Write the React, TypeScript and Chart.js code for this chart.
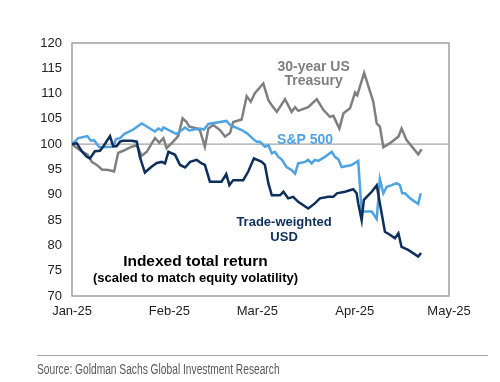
import React, { useEffect, useRef } from "react";
import { Chart, registerables } from "chart.js";

Chart.register(...registerables);

// ---- Axis ticks (x = days since 1 Jan 2025) ----
const monthTickDays = [0, 31, 59, 90, 120];
const monthTickLabels = ["Jan-25", "Feb-25", "Mar-25", "Apr-25", "May-25"];
const yMin = 70;
const yMax = 120;
const yStep = 5;
const referenceValue = 100;

// ---- 30-year US Treasury ----
const treasuryDays = [
  0, 2.5, 4.9, 6.3, 7.9, 9.5, 11.6, 13.4, 14.7, 16.3, 19.0, 20.6, 22.2, 23.8, 26.4, 27.8, 29.1, 30.1,
  32.2, 33.8, 35.2, 36.5, 37.3, 39.7, 40.7, 42.3, 43.4, 45.0, 47.1, 48.7, 50.3, 51.3, 54.0, 55.6, 56.9,
  58.2, 60.9, 62.5, 63.6, 65.2, 67.8, 69.9, 71.0, 72.0, 75.2, 77.9, 80.0, 82.1, 83.2, 85.1, 86.4, 88.5,
  90.1, 90.8, 93.0, 95.9, 97.0, 98.0, 99.1, 101.2, 103.9, 104.9, 106.5, 110.2, 111.3,
];
const treasuryValues = [
  100, 98.8, 98.0, 96.5, 95.9, 95.0, 94.9, 94.6, 98.3, 98.7, 99.5, 99.8, 97.7, 98.5, 101.2, 100.3, 101.2, 99.2,
  100.5, 101.6, 105.1, 104.4, 103.5, 103.1, 102.8, 99.5, 103.1, 103.8, 102.8, 101.5, 102.2, 104.4, 104.9, 109.5, 108.4,
  110.1, 112.0, 108.7, 107.7, 106.4, 108.9, 106.4, 107.3, 106.6, 107.3, 108.9, 106.8, 105.4, 105.6, 103.1, 106.1, 107.1,
  110.2, 109.7, 114.1, 108.4, 104.1, 103.5, 99.4, 100.2, 101.5, 103.1, 100.8, 98.0, 99.0,
];

// ---- S&P 500 ----
const spxDays = [
  0, 2.0, 4.9, 6.0, 7.0, 8.7, 13.1, 14.0, 15.3, 16.6, 19.5, 22.2, 24.3, 26.4, 27.5, 28.6, 29.1, 33.3,
  36.0, 37.3, 40.7, 42.0, 43.4, 49.2, 50.3, 54.0, 55.6, 56.7, 57.7, 58.8, 59.8, 61.4, 62.5, 63.6, 64.6,
  65.7, 66.7, 68.3, 69.9, 71.0, 72.0, 74.2, 75.2, 76.3, 77.3, 78.4, 80.5, 82.7, 83.7, 84.8, 85.8, 89.0,
  91.1, 92.2, 93.3, 95.4, 97.0, 98.0, 98.6, 99.1, 100.2, 101.8, 103.4, 104.4, 105.1, 106.0, 107.6, 110.2, 111.0,
];
const spxValues = [
  100, 101.2, 101.6, 100.7, 100.8, 99.4, 99.5, 101.0, 101.2, 102.0, 102.9, 104.1, 103.3, 102.5, 103.1, 102.7, 103.3, 102.0,
  103.3, 102.7, 103.1, 102.9, 104.0, 104.6, 103.8, 102.8, 102.2, 101.6, 101.0, 100.5, 100.5, 99.5, 99.8, 98.2, 98.5,
  97.5, 97.0, 95.5, 94.9, 94.2, 96.2, 96.5, 96.9, 96.2, 96.9, 96.7, 97.5, 98.5, 97.5, 97.0, 95.5, 95.9,
  96.7, 86.7, 86.7, 86.7, 85.2, 93.1, 91.6, 90.3, 91.6, 91.9, 92.3, 91.9, 90.3, 90.3, 89.3, 88.2, 90.3,
];

// ---- Trade-weighted USD ----
const usdDays = [
  0, 1.5, 3.1, 4.7, 5.7, 7.3, 8.9, 10.0, 12.1, 13.1, 14.2, 15.3, 16.3, 19.0, 20.6, 21.6, 23.2, 25.4,
  27.0, 28.6, 29.6, 30.7, 32.8, 34.4, 36.0, 37.6, 39.7, 41.3, 42.3, 43.9, 47.6, 49.1, 50.1, 51.3, 54.5,
  56.1, 57.9, 60.4, 61.4, 62.5, 63.6, 66.2, 67.3, 68.8, 70.4, 72.0, 75.2, 77.3, 78.9, 81.6, 83.2, 84.3,
  86.9, 89.5, 90.6, 91.1, 92.2, 92.9, 95.4, 97.0, 98.0, 99.6, 101.2, 102.8, 103.9, 104.9, 107.0, 110.2, 111.1,
];
const usdValues = [
  100, 100.2, 98.6, 97.5, 97.2, 98.6, 98.7, 99.6, 101.6, 99.6, 99.6, 100.5, 100.7, 100.7, 100.5, 97.5, 94.4, 95.6,
  96.3, 96.5, 96.2, 98.5, 97.9, 95.9, 95.4, 96.5, 96.9, 96.2, 95.9, 92.6, 92.6, 94.1, 91.9, 92.9, 92.9,
  94.6, 97.2, 96.5, 95.9, 92.3, 89.9, 89.9, 90.6, 89.3, 89.6, 88.6, 87.3, 88.3, 89.3, 89.6, 89.6, 90.3,
  90.6, 91.1, 90.3, 88.3, 85.0, 89.0, 90.6, 91.9, 88.3, 82.7, 82.1, 81.4, 82.4, 79.7, 79.1, 77.8, 78.5,
];

// ---- Text annotations (anchored in data coordinates) ----
const annotationLines = [
  { lines: ["30-year US", "Treasury"], day: 76.9, value: 115.2, color: "#7f7f7f", fonts: ["bold 14px", "bold 14px"] },
  { lines: ["S&P 500"], day: 74.2, value: 100.9, color: "#4fa3e0", fonts: ["bold 14px"] },
  { lines: ["Trade-weighted", "USD"], day: 67.5, value: 84.5, color: "#0e2f5a", fonts: ["bold 13px", "bold 13px"] },
  {
    lines: ["Indexed total return", "(scaled to match equity volatility)"],
    day: 39.3,
    value: 76.8,
    color: "#000000",
    fonts: ["bold 15.5px", "bold 13px"],
  },
];
const lineGaps = [14, 14, 15, 16.5];

const FONT = '"Liberation Sans", Arial, Helvetica, sans-serif';

const toPoints = (xs: number[], ys: number[]) => xs.map((x, i) => ({ x, y: ys[i] }));

const overlayPlugin = {
  id: "overlay",
  beforeDatasetsDraw(chart: any) {
    const { ctx, chartArea, scales } = chart;
    const yRef = scales.y.getPixelForValue(referenceValue);
    ctx.save();
    ctx.strokeStyle = "#a6a6a6";
    ctx.lineWidth = 1.2;
    ctx.beginPath();
    ctx.moveTo(chartArea.left, yRef);
    ctx.lineTo(chartArea.right, yRef);
    ctx.stroke();
    ctx.strokeStyle = "#a0a0a0";
    ctx.lineWidth = 1.5;
    ctx.strokeRect(chartArea.left, chartArea.top, chartArea.right - chartArea.left, chartArea.bottom - chartArea.top);
    ctx.restore();
  },
  afterDatasetsDraw(chart: any) {
    const { ctx, scales } = chart;
    ctx.save();
    ctx.textAlign = "center";
    ctx.textBaseline = "middle";
    annotationLines.forEach((a, idx) => {
      const cx = scales.x.getPixelForValue(a.day);
      const cy = scales.y.getPixelForValue(a.value);
      ctx.fillStyle = a.color;
      a.lines.forEach((t, i) => {
        ctx.font = `${a.fonts[i]} ${FONT}`;
        ctx.fillText(t, cx, cy + i * lineGaps[idx]);
      });
    });
    ctx.restore();
  },
};

export default function App() {
  const canvasRef = useRef<HTMLCanvasElement | null>(null);

  useEffect(() => {
    if (!canvasRef.current) return;
    const chart = new Chart(canvasRef.current, {
      type: "line",
      data: {
        datasets: [
          {
            label: "Trade-weighted USD",
            data: toPoints(usdDays, usdValues),
            borderColor: "#0e2f5a",
            borderWidth: 2.5,
            pointRadius: 0,
            tension: 0,
          },
          {
            label: "S&P 500",
            data: toPoints(spxDays, spxValues),
            borderColor: "#4fa3e0",
            borderWidth: 2.5,
            pointRadius: 0,
            tension: 0,
          },
          {
            label: "30-year US Treasury",
            data: toPoints(treasuryDays, treasuryValues),
            borderColor: "#7f7f7f",
            borderWidth: 2.5,
            pointRadius: 0,
            tension: 0,
          },
        ],
      },
      options: {
        responsive: false,
        animation: false,
        events: [],
        layout: { padding: { left: 0, top: 43, right: 51, bottom: 56 } },
        plugins: { legend: { display: false }, tooltip: { enabled: false } },
        scales: {
          x: {
            type: "linear",
            min: monthTickDays[0],
            max: monthTickDays[monthTickDays.length - 1],
            grid: { display: false, drawTicks: false },
            border: { display: false },
            afterBuildTicks: (scale: any) => {
              scale.ticks = monthTickDays.map((v) => ({ value: v }));
            },
            afterFit: (scale: any) => {
              scale.height = 30;
            },
            ticks: {
              autoSkip: false,
              maxRotation: 0,
              padding: 8,
              color: "#222222",
              font: { family: FONT, size: 13 },
              callback: (v: any) => monthTickLabels[monthTickDays.indexOf(Number(v))] ?? "",
            },
          },
          y: {
            min: yMin,
            max: yMax,
            grid: { display: false, drawTicks: false },
            border: { display: false },
            afterFit: (scale: any) => {
              scale.width = 72;
            },
            ticks: {
              stepSize: yStep,
              padding: 10,
              color: "#222222",
              font: { family: FONT, size: 13 },
            },
          },
        },
      },
      plugins: [overlayPlugin],
    });
    return () => chart.destroy();
  }, []);

  return (
    <div style={{ position: "fixed", left: 0, top: 0, width: 500, height: 382, background: "#ffffff" }}>
      <canvas ref={canvasRef} width={500} height={382} style={{ display: "block" }} />
      <div
        style={{
          position: "absolute",
          left: 37,
          top: 355,
          width: 451,
          borderTop: "1.5px solid #a6a6a6",
        }}
      />
      <div
        style={{
          position: "absolute",
          left: 37,
          top: 361,
          fontFamily: '"Liberation Sans", Arial, sans-serif',
          fontSize: 14,
          color: "#595959",
          whiteSpace: "nowrap",
          lineHeight: "16px",
          transform: "scaleX(0.73)",
          transformOrigin: "0 0",
        }}
      >
        Source: Goldman Sachs Global Investment Research
      </div>
    </div>
  );
}
